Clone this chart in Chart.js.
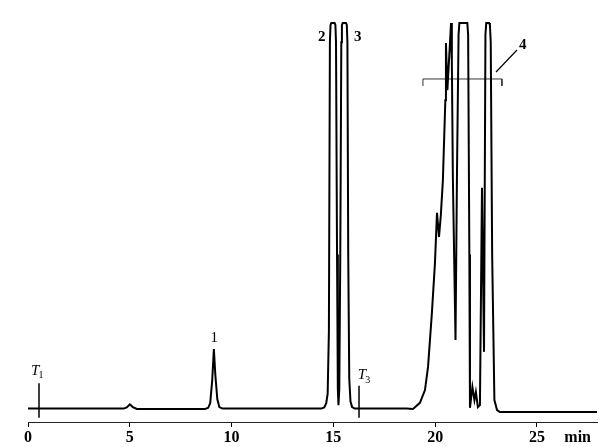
<!DOCTYPE html>
<html>
<head>
<meta charset="utf-8">
<script src="https://cdn.jsdelivr.net/npm/chart.js@4/dist/chart.umd.min.js"></script>
<style>
html,body{margin:0;padding:0;background:#fff;}
canvas{display:block;}
</style>
</head>
<body>
<canvas id="c" width="610" height="447"></canvas>
<script>
// Retention time (min) and detector signal (% of recorder full scale, clipped at 100)
const time = [
  0, 4.7, 4.85, 5.0, 5.15, 5.35,
  8.7, 8.85, 8.95, 9.05, 9.13, 9.2, 9.3, 9.4, 9.55,
  14.4, 14.55, 14.65, 14.72, 14.78, 14.83, 14.86, 14.9, 15.06, 15.1, 15.13, 15.18, 15.22, 15.25,
  15.29, 15.34, 15.39, 15.42, 15.46, 15.62, 15.66, 15.69, 15.73, 15.78, 15.84, 15.92, 16.05,
  18.6, 18.91, 19.25, 19.5, 19.65, 19.84, 19.99, 20.09, 20.19, 20.28, 20.38, 20.5, 20.53,
  20.6, 20.74, 20.78, 20.82, 20.87, 21.0, 21.07, 21.15, 21.19, 21.23, 21.54, 21.58, 21.62, 21.68,
  21.71, 21.83, 21.93, 22.0, 22.1, 22.2, 22.3, 22.4, 22.47, 22.51, 22.55, 22.65, 22.69, 22.73,
  22.8, 22.91, 23.04, 23.18, 27.95
];
const signal = [
  0.1, 0.1, 0.4, 1.2, 0.5, 0.0,
  0.0, 0.3, 1.5, 7.5, 15.5, 9.0, 2.5, 0.5, 0.1,
  0.1, 0.4, 1.5, 4, 20, 95, 99.5, 100, 100, 99.5, 95, 40, 5, 1,
  5, 40, 95, 99.5, 100, 100, 99.5, 95, 40, 8, 2, 0.5, 0.1,
  0.1, 0.0, 1.6, 4.9, 10.9, 24.9, 37.8, 50.8, 44.6, 50.3, 59.3, 80, 94.8,
  82.6, 96, 100, 90, 60, 17.9, 60, 97, 100, 100, 100, 100, 97, 40,
  0.3, 5.7, 2.3, 4.4, 0.5, 1.0, 57.3, 14.8, 97, 100, 100, 100, 99.5, 95,
  40, 2.3, -0.3, -0.8, -0.8
];
// Injection / marker lines
const markerT1 = [0.54, 6.7, -2.3];   // time, top, bottom
const markerT3 = [16.26, 6.0, -2.3];
// Axis ticks
const tickValues = [0, 5, 10, 15, 20, 25];
const unitTick = 27.0;
const unitLabel = 'min';

const trace = time.map((t, i) => ({x: t, y: signal[i]}));

const labelPlugin = {
  id: 'peakLabels',
  afterDatasetsDraw(chart) {
    const {ctx, scales: {x, y}} = chart;
    ctx.save();
    ctx.fillStyle = '#000';
    ctx.textAlign = 'center';
    ctx.textBaseline = 'middle';
    const put = (txt, tx, vy, font) => {
      ctx.font = font;
      ctx.fillText(txt, x.getPixelForValue(tx), y.getPixelForValue(vy));
    };
    put('1', 9.15, 18.3, '15px "Liberation Serif"');
    put('2', 14.43, 96.4, 'bold 15px "Liberation Serif"');
    put('3', 16.2, 96.4, 'bold 15px "Liberation Serif"');
    put('4', 24.3, 94.3, 'bold 15px "Liberation Serif"');
    // T1 and T3 with subscripts
    const sub = (base, s, tx, vy) => {
      const px = x.getPixelForValue(tx), py = y.getPixelForValue(vy);
      ctx.font = 'italic 15px "Liberation Serif"';
      ctx.textAlign = 'left';
      ctx.fillText(base, px, py);
      const w = ctx.measureText(base).width;
      ctx.font = '10px "Liberation Serif"';
      ctx.fillText(s, px + w - 1, py + 5);
    };
    sub('T', '1', 0.15, 9.9);
    sub('T', '3', 16.2, 8.8);
    ctx.restore();
  }
};

new Chart(document.getElementById('c'), {
  type: 'line',
  data: {
    datasets: [
      {data: trace, borderColor: '#000', borderWidth: 2, pointRadius: 0, tension: 0, fill: false},
      {data: [{x: markerT1[0], y: markerT1[1]}, {x: markerT1[0], y: markerT1[2]}], borderColor: '#000', borderWidth: 1.5, pointRadius: 0},
      {data: [{x: markerT3[0], y: markerT3[1]}, {x: markerT3[0], y: markerT3[2]}], borderColor: '#000', borderWidth: 1.5, pointRadius: 0},
      {data: [{x: 19.4, y: 83.7}, {x: 19.4, y: 85.5}, {x: 23.28, y: 85.5}, {x: 23.28, y: 83.7}], borderColor: '#333', borderWidth: 1, pointRadius: 0},
      {data: [{x: 22.99, y: 87.3}, {x: 24.02, y: 93.0}], borderColor: '#000', borderWidth: 1.2, pointRadius: 0}
    ]
  },
  options: {
    responsive: false,
    animation: false,
    events: [],
    layout: {padding: {left: 28, right: 13, top: 10, bottom: 0}},
    plugins: {legend: {display: false}, tooltip: {enabled: false}},
    scales: {
      x: {
        type: 'linear', min: 0, max: 27.95,
        afterBuildTicks: s => { s.ticks = tickValues.concat([unitTick]).map(v => ({value: v})); },
        afterFit: s => { s.height = 25; },
        grid: {
          drawOnChartArea: false, drawTicks: true, tickLength: 5,
          tickColor: c => (c.tick && c.tick.value === unitTick) ? 'rgba(0,0,0,0)' : '#000'
        },
        border: {display: true, color: '#222', width: 1},
        ticks: {
          color: '#000', padding: 1, maxRotation: 0, autoSkip: false,
          font: {family: '"Liberation Serif"', size: 16, weight: 'bold'},
          callback: v => v === unitTick ? unitLabel : String(v)
        }
      },
      y: {type: 'linear', min: -3.37, max: 103.37, display: false}
    }
  },
  plugins: [labelPlugin]
});
</script>
</body>
</html>
